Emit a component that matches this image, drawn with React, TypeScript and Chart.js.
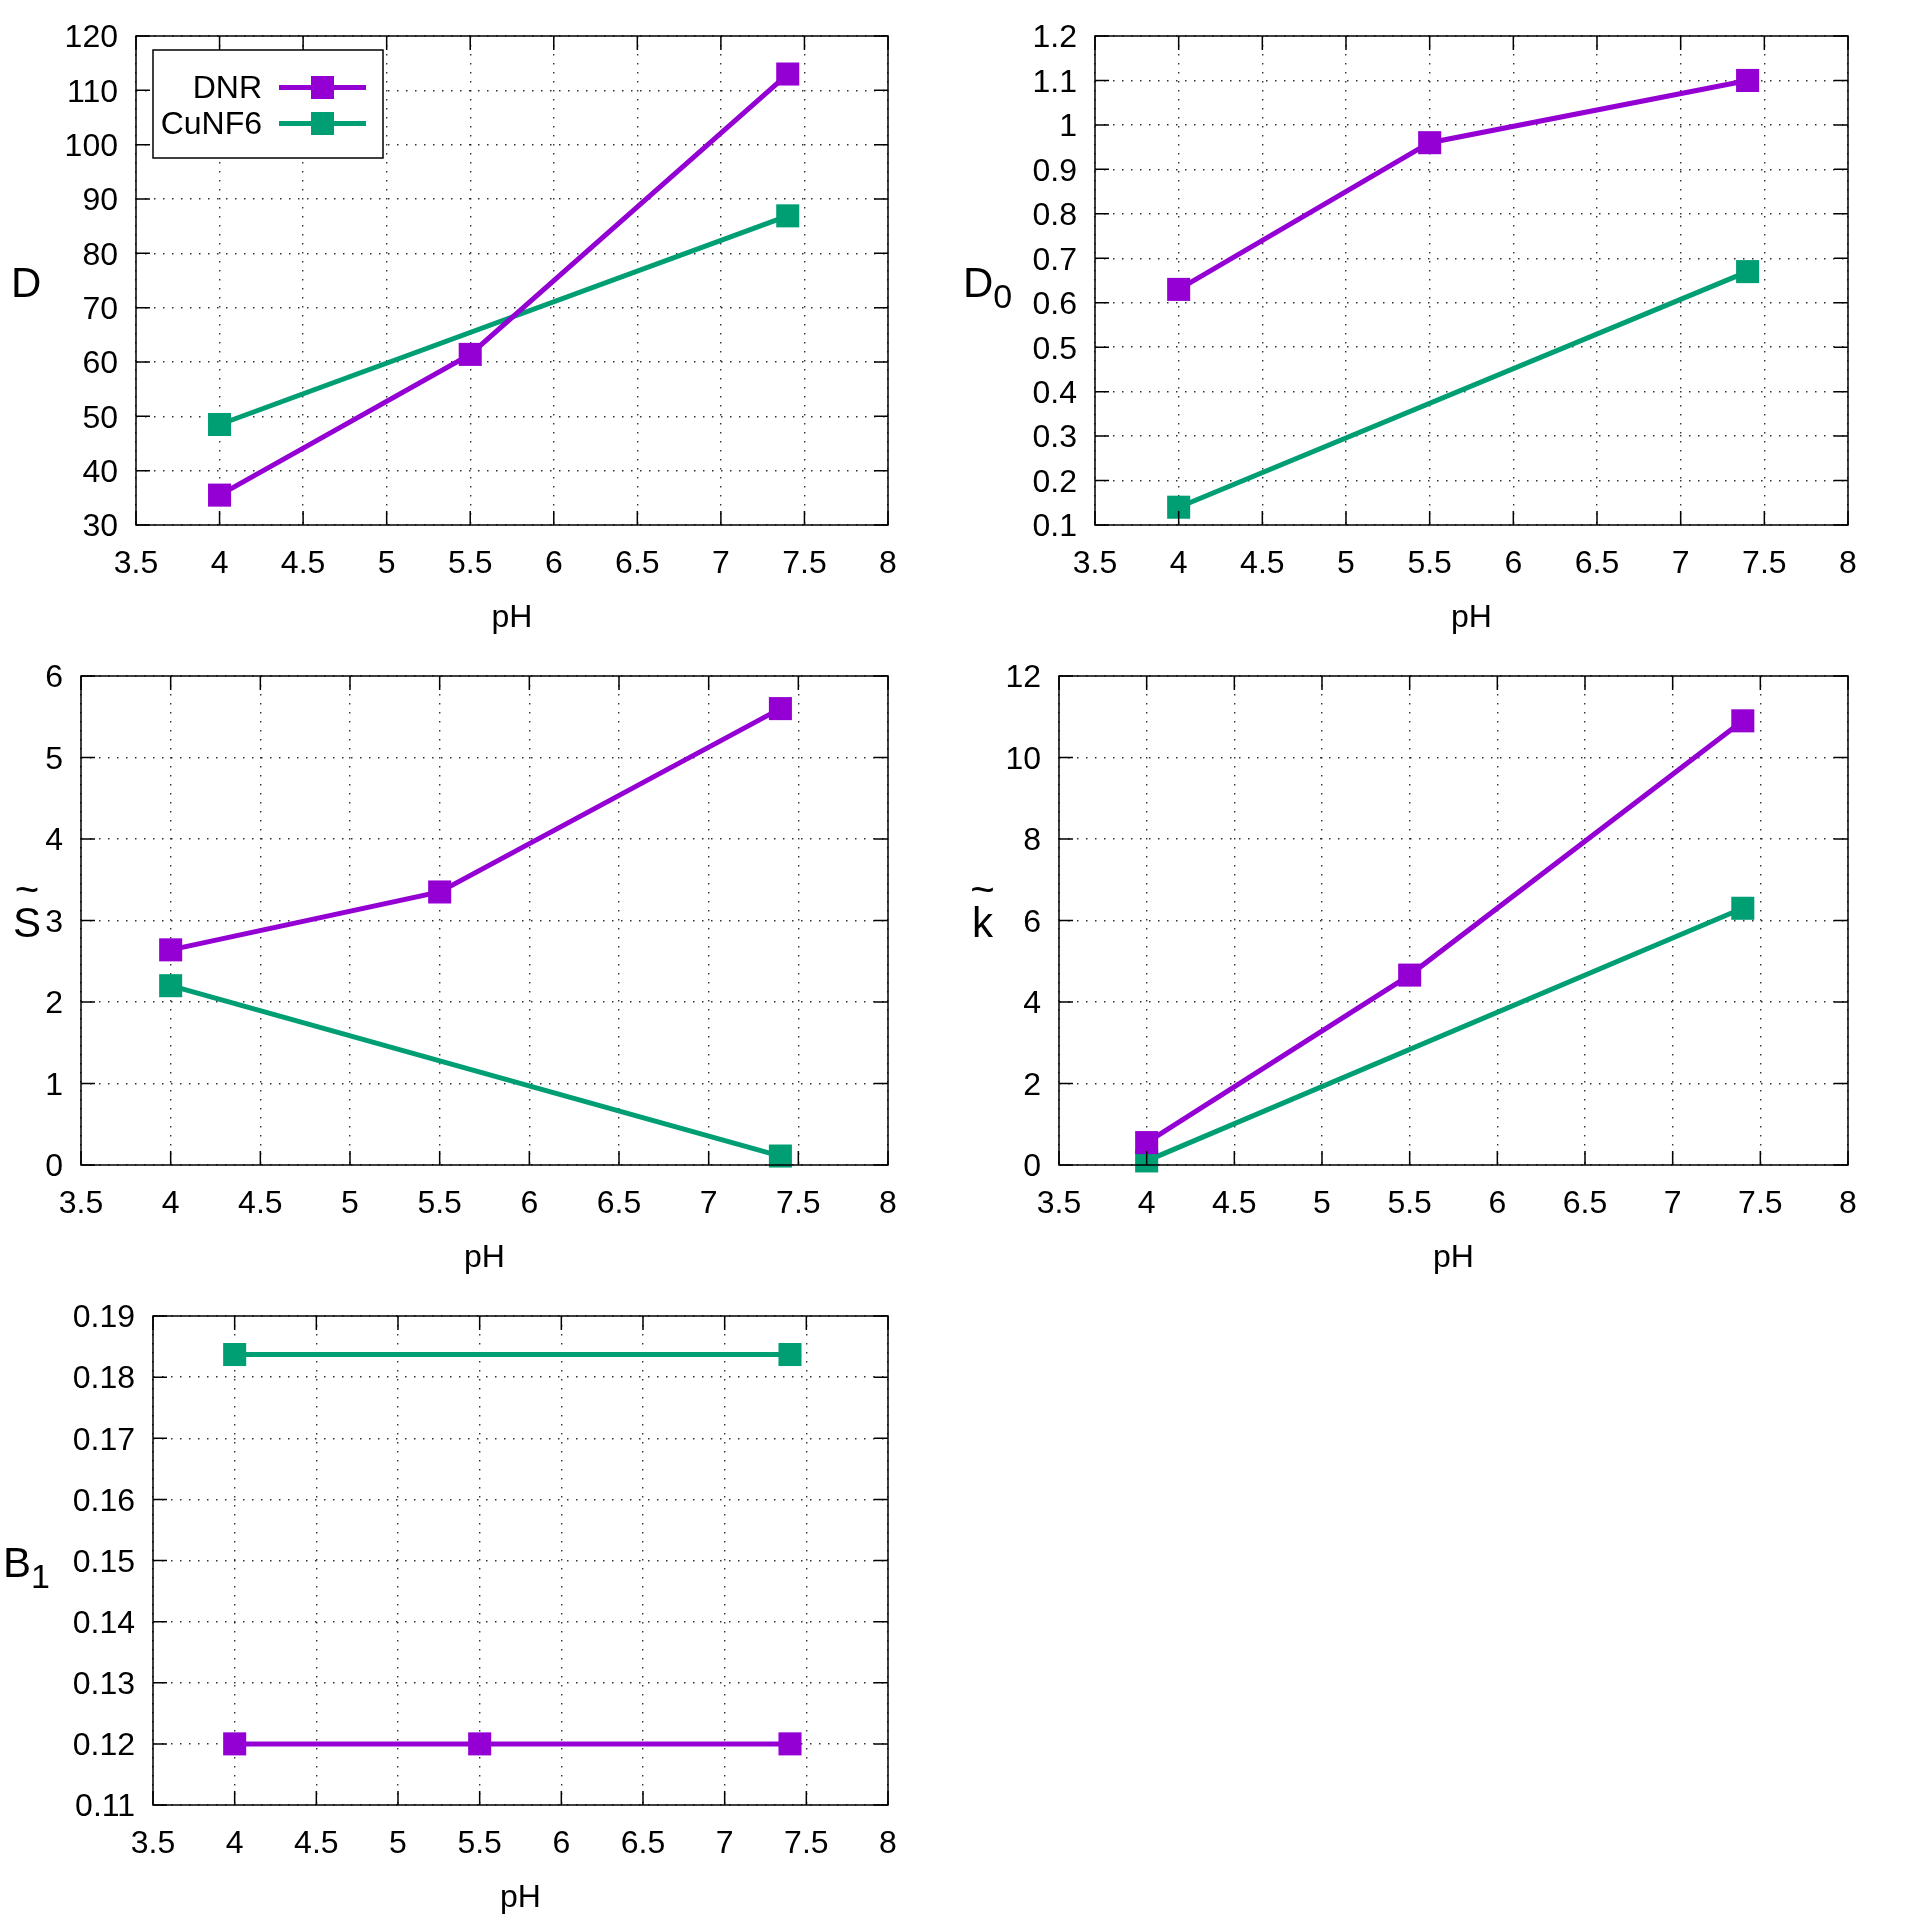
import React, { useEffect, useRef } from 'react';
import { Chart, registerables } from 'chart.js';

Chart.register(...registerables);

// ---------------- data ----------------
const SERIES_NAMES = ['DNR', 'CuNF6'];
const SERIES_COLORS = ['#9400D3', '#009E73'];

const DNR_PH = [4, 5.5, 7.4];
const CUNF6_PH = [4, 7.4];

const D_DNR = [35.5, 61.4, 113];
const D_CUNF6 = [48.5, 86.9];

const D0_DNR = [0.63, 0.96, 1.1];
const D0_CUNF6 = [0.14, 0.67];

const S_DNR = [2.64, 3.35, 5.6];
const S_CUNF6 = [2.2, 0.11];

const K_DNR = [0.55, 4.66, 10.9];
const K_CUNF6 = [0.1, 6.3];

const B1_DNR = [0.12, 0.12, 0.12];
const B1_CUNF6 = [0.1837, 0.1837];

const PH_TICKS = [3.5, 4, 4.5, 5, 5.5, 6, 6.5, 7, 7.5, 8];
const PH_TICK_LABELS = ['3.5', '4', '4.5', '5', '5.5', '6', '6.5', '7', '7.5', '8'];

const D_TICKS = [30, 40, 50, 60, 70, 80, 90, 100, 110, 120];
const D_TICK_LABELS = ['30', '40', '50', '60', '70', '80', '90', '100', '110', '120'];

const D0_TICKS = [0.1, 0.2, 0.3, 0.4, 0.5, 0.6, 0.7, 0.8, 0.9, 1.0, 1.1, 1.2];
const D0_TICK_LABELS = ['0.1', '0.2', '0.3', '0.4', '0.5', '0.6', '0.7', '0.8', '0.9', '1', '1.1', '1.2'];

const S_TICKS = [0, 1, 2, 3, 4, 5, 6];
const S_TICK_LABELS = ['0', '1', '2', '3', '4', '5', '6'];

const K_TICKS = [0, 2, 4, 6, 8, 10, 12];
const K_TICK_LABELS = ['0', '2', '4', '6', '8', '10', '12'];

const B1_TICKS = [0.11, 0.12, 0.13, 0.14, 0.15, 0.16, 0.17, 0.18, 0.19];
const B1_TICK_LABELS = ['0.11', '0.12', '0.13', '0.14', '0.15', '0.16', '0.17', '0.18', '0.19'];

const X_TITLE = 'pH';

// ---------------- layout / style ----------------
const FONT = '"Liberation Sans", Arial, sans-serif';
const TICK_FONT_SIZE = 32;
const LABEL_FONT_SIZE = 42;
const SUB_FONT_SIZE = 34;
const CELL_W = 960;
const CELL_H = 640;
const PLOT_TOP = 36;
const PLOT_BOTTOM = 525;
const PLOT_RIGHT = 888;

type PanelDef = {
  key: string;
  row: number;
  col: number;
  plotLeft: number;
  labelX: number;
  yMain: string;
  ySub: string;
  tilde: boolean;
  yTicks: number[];
  yTickLabels: string[];
  dnr: number[];
  cu: number[];
  legend: boolean;
};

const PANELS: PanelDef[] = [
  { key: 'D', row: 0, col: 0, plotLeft: 136, labelX: 11, yMain: 'D', ySub: '', tilde: false, yTicks: D_TICKS, yTickLabels: D_TICK_LABELS, dnr: D_DNR, cu: D_CUNF6, legend: true },
  { key: 'D0', row: 0, col: 1, plotLeft: 135, labelX: 3, yMain: 'D', ySub: '0', tilde: false, yTicks: D0_TICKS, yTickLabels: D0_TICK_LABELS, dnr: D0_DNR, cu: D0_CUNF6, legend: false },
  { key: 'S', row: 1, col: 0, plotLeft: 81, labelX: 13, yMain: 'S', ySub: '', tilde: true, yTicks: S_TICKS, yTickLabels: S_TICK_LABELS, dnr: S_DNR, cu: S_CUNF6, legend: false },
  { key: 'k', row: 1, col: 1, plotLeft: 99, labelX: 12, yMain: 'k', ySub: '', tilde: true, yTicks: K_TICKS, yTickLabels: K_TICK_LABELS, dnr: K_DNR, cu: K_CUNF6, legend: false },
  { key: 'B1', row: 2, col: 0, plotLeft: 153, labelX: 3, yMain: 'B', ySub: '1', tilde: false, yTicks: B1_TICKS, yTickLabels: B1_TICK_LABELS, dnr: B1_DNR, cu: B1_CUNF6, legend: false },
];

const gnuplotPlugin = {
  id: 'gnu',
  afterDatasetsDraw(chart: any, _args: any, opts: any) {
    const { ctx, chartArea: a, scales } = chart;
    const xs = scales.x;
    const ys = scales.y;
    ctx.save();
    // frame + inward mirrored ticks
    ctx.strokeStyle = '#000';
    ctx.lineWidth = 1.5;
    ctx.beginPath();
    const tl = 14;
    xs.ticks.forEach((t: any) => {
      const px = xs.getPixelForValue(t.value);
      ctx.moveTo(px, a.bottom);
      ctx.lineTo(px, a.bottom - tl);
      ctx.moveTo(px, a.top);
      ctx.lineTo(px, a.top + tl);
    });
    ys.ticks.forEach((t: any) => {
      const py = ys.getPixelForValue(t.value);
      ctx.moveTo(a.left, py);
      ctx.lineTo(a.left + tl, py);
      ctx.moveTo(a.right, py);
      ctx.lineTo(a.right - tl, py);
    });
    ctx.stroke();
    ctx.strokeRect(a.left, a.top, a.right - a.left, a.bottom - a.top);

    // y label (horizontal, gnuplot style)
    const midY = (a.top + a.bottom) / 2;
    const baseY = midY + 16;
    ctx.fillStyle = '#000';
    ctx.textAlign = 'left';
    ctx.textBaseline = 'alphabetic';
    ctx.font = `${LABEL_FONT_SIZE}px ${FONT}`;
    const mainW = ctx.measureText(opts.main).width;
    ctx.fillText(opts.main, opts.x, baseY);
    if (opts.sub) {
      ctx.font = `${SUB_FONT_SIZE}px ${FONT}`;
      ctx.fillText(opts.sub, opts.x + mainW, baseY + 11);
    }
    if (opts.tilde) {
      ctx.font = `${LABEL_FONT_SIZE}px ${FONT}`;
      ctx.textAlign = 'center';
      ctx.fillText('~', opts.x + mainW / 2, baseY - 33);
      ctx.textAlign = 'left';
    }

    // legend (opaque boxed key inside plot)
    if (opts.legend) {
      const bx = 153, by = 50, bw = 230, bh = 108;
      ctx.fillStyle = '#fff';
      ctx.fillRect(bx, by, bw, bh);
      ctx.strokeStyle = '#000';
      ctx.lineWidth = 1.5;
      ctx.strokeRect(bx, by, bw, bh);
      chart.data.datasets.forEach((ds: any, i: number) => {
        const cy = 89.5 + i * 36;
        ctx.font = `${TICK_FONT_SIZE}px ${FONT}`;
        ctx.fillStyle = '#000';
        ctx.textAlign = 'right';
        ctx.textBaseline = 'middle';
        ctx.fillText(ds.label, 262, cy);
        ctx.strokeStyle = ds.borderColor;
        ctx.lineWidth = ds.borderWidth;
        ctx.beginPath();
        ctx.moveTo(279, cy - 2);
        ctx.lineTo(366, cy - 2);
        ctx.stroke();
        ctx.fillStyle = ds.borderColor;
        ctx.fillRect(322.5 - 11.5, cy - 2 - 11.5, 23, 23);
      });
    }
    ctx.restore();
  },
};

function makeDataset(label: string, color: string, xs: number[], ys: number[]) {
  return {
    label,
    data: xs.map((x, i) => ({ x, y: ys[i] })),
    borderColor: color,
    backgroundColor: color,
    borderWidth: 5,
    pointStyle: 'rect',
    pointRadius: 16.3,
    pointHoverRadius: 16.3,
    pointBorderWidth: 0,
    pointBackgroundColor: color,
    pointBorderColor: color,
    tension: 0,
    fill: false,
    clip: false,
  };
}

function makeConfig(p: PanelDef): any {
  const tickFont = { family: FONT, size: TICK_FONT_SIZE };
  const grid = { color: 'rgba(0,0,0,0.8)', lineWidth: 1.4, drawTicks: false };
  return {
    type: 'line',
    data: {
      datasets: [
        makeDataset(SERIES_NAMES[0], SERIES_COLORS[0], DNR_PH, p.dnr),
        makeDataset(SERIES_NAMES[1], SERIES_COLORS[1], CUNF6_PH, p.cu),
      ],
    },
    options: {
      responsive: false,
      animation: false,
      devicePixelRatio: 1,
      events: [],
      layout: { padding: { top: PLOT_TOP, right: CELL_W - PLOT_RIGHT, bottom: 0, left: 0 } },
      plugins: {
        legend: { display: false },
        tooltip: { enabled: false },
        gnu: { main: p.yMain, sub: p.ySub, tilde: p.tilde, x: p.labelX, legend: p.legend },
      },
      scales: {
        x: {
          type: 'linear',
          position: 'bottom',
          min: PH_TICKS[0],
          max: PH_TICKS[PH_TICKS.length - 1],
          afterBuildTicks: (s: any) => {
            s.ticks = PH_TICKS.map((v) => ({ value: v }));
          },
          afterFit: (s: any) => {
            s.height = CELL_H - PLOT_BOTTOM;
            s.paddingLeft = 0;
            s.paddingRight = 0;
          },
          ticks: {
            autoSkip: false,
            maxRotation: 0,
            minRotation: 0,
            padding: 20,
            color: '#000',
            font: tickFont,
            callback: (_v: any, i: number) => PH_TICK_LABELS[i],
          },
          grid,
          border: { display: false, dash: [1.5, 7.5] },
          title: { display: true, text: X_TITLE, color: '#000', font: tickFont, padding: { top: 0, bottom: 3 } },
        },
        y: {
          type: 'linear',
          position: 'left',
          min: p.yTicks[0],
          max: p.yTicks[p.yTicks.length - 1],
          afterBuildTicks: (s: any) => {
            s.ticks = p.yTicks.map((v) => ({ value: v }));
          },
          afterFit: (s: any) => {
            s.width = p.plotLeft;
            s.paddingTop = 0;
            s.paddingBottom = 0;
          },
          ticks: {
            autoSkip: false,
            padding: 18,
            labelOffset: 2.5,
            color: '#000',
            font: tickFont,
            callback: (_v: any, i: number) => p.yTickLabels[i],
          },
          grid,
          border: { display: false, dash: [1.5, 7.5] },
        },
      },
    },
    plugins: [gnuplotPlugin],
  };
}

function Panel({ p }: { p: PanelDef }) {
  const ref = useRef<HTMLCanvasElement | null>(null);
  useEffect(() => {
    if (!ref.current) return;
    const chart = new Chart(ref.current, makeConfig(p));
    return () => chart.destroy();
  }, [p]);
  return (
    <canvas
      ref={ref}
      width={CELL_W}
      height={CELL_H}
      style={{ position: 'absolute', left: p.col * CELL_W, top: p.row * CELL_H, width: CELL_W, height: CELL_H }}
    />
  );
}

export default function App() {
  return (
    <div style={{ position: 'absolute', left: 0, top: 0, width: 1920, height: 1920, background: '#fff' }}>
      {PANELS.map((p) => (
        <Panel key={p.key} p={p} />
      ))}
    </div>
  );
}
